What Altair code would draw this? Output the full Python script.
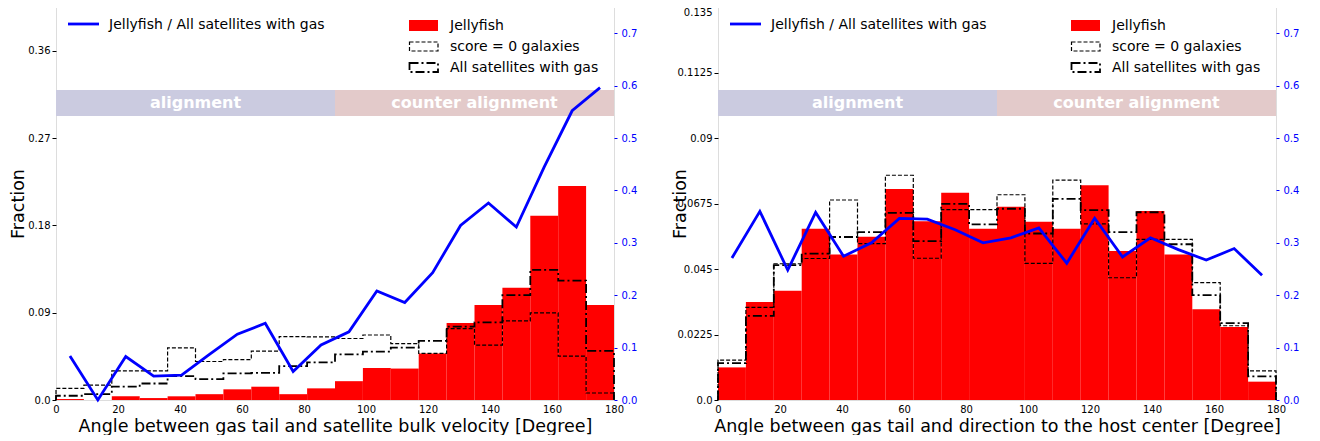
import altair as alt
import pandas as pd

# ---------------- data ----------------
EDGES = list(range(0, 181, 9))          # 20 bins of 9 degrees
CENTERS = [e + 4.5 for e in EDGES[:-1]]

# left panel: angle between gas tail and satellite bulk velocity
L_JELLY = [0.001, 0.0, 0.0038, 0.002, 0.0038, 0.006, 0.011, 0.0137, 0.006, 0.012,
           0.0194, 0.033, 0.0324, 0.048, 0.0794, 0.098, 0.1156, 0.190, 0.2205, 0.098]
L_SCORE0 = [0.012, 0.0154, 0.030, 0.030, 0.0537, 0.0397, 0.0417, 0.0503, 0.0654, 0.065,
            0.0634, 0.067, 0.058, 0.048, 0.0736, 0.0566, 0.0815, 0.0897, 0.0453, 0.0072]
L_ALL = [0.0044, 0.006, 0.0137, 0.017, 0.0246, 0.0216, 0.0274, 0.028, 0.035, 0.0387,
         0.047, 0.0498, 0.054, 0.061, 0.0757, 0.080, 0.108, 0.134, 0.123, 0.0506]
L_RATIO = [0.084, 0.0, 0.083, 0.0457, 0.0476, 0.087, 0.1255, 0.1465, 0.0545, 0.105,
           0.130, 0.208, 0.186, 0.243, 0.333, 0.376, 0.330, 0.445, 0.552, 0.596]

# right panel: angle between gas tail and direction to the host center
R_JELLY = [0.0112, 0.0337, 0.0375, 0.0588, 0.050, 0.0561, 0.0725, 0.0614, 0.0712, 0.0588,
           0.0664, 0.0612, 0.0588, 0.0738, 0.0512, 0.0649, 0.050, 0.0312, 0.0251, 0.0063]
R_SCORE0 = [0.0137, 0.0318, 0.0468, 0.0486, 0.0687, 0.0537, 0.0772, 0.0487, 0.0654, 0.0654,
            0.0705, 0.0469, 0.0755, 0.0605, 0.042, 0.0552, 0.0552, 0.0403, 0.0255, 0.010]
R_ALL = [0.0127, 0.0289, 0.0463, 0.0503, 0.056, 0.0577, 0.0643, 0.0546, 0.0674, 0.0603,
         0.0657, 0.0572, 0.0691, 0.0652, 0.0577, 0.0645, 0.0535, 0.036, 0.0264, 0.0081]
R_RATIO = [0.271, 0.360, 0.248, 0.358, 0.2745, 0.300, 0.3465, 0.345, 0.325, 0.300,
           0.3095, 0.3285, 0.261, 0.347, 0.273, 0.3095, 0.287, 0.267, 0.289, 0.238]

L_YTICKS = [0.0, 0.09, 0.18, 0.27, 0.36]
R_YTICKS = [0.0, 0.0225, 0.045, 0.0675, 0.09, 0.1125, 0.135]
RATIO_TICKS = [0.0, 0.1, 0.2, 0.3, 0.4, 0.5, 0.6, 0.7]
X_TICKS = list(range(0, 181, 20))

BAND_START = [0, 90]
BAND_END = [90, 180]
BAND_LABELS = ["alignment", "counter alignment"]
BAND_COLORS = ["#cbcbe0", "#e3caca"]

LEGEND_LINE = "Jellyfish / All satellites with gas"
LEGEND_HIST = ["Jellyfish", "score = 0 galaxies", "All satellites with gas"]

L_XTITLE = "Angle between gas tail and satellite bulk velocity [Degree]"
R_XTITLE = "Angle between gas tail and direction to the host center [Degree]"

W, H = 558, 393
FONT = "DejaVu Sans"
DASH = [4, 2]
DASHDOT = [9, 3, 2, 3]


def step_frame(vals):
    rows = [{"x": EDGES[0], "y": 0.0, "i": 0}]
    for k, v in enumerate(vals):
        rows.append({"x": EDGES[k], "y": v, "i": len(rows)})
        rows.append({"x": EDGES[k + 1], "y": v, "i": len(rows)})
    rows.append({"x": EDGES[-1], "y": 0.0, "i": len(rows)})
    return pd.DataFrame(rows)


def panel(jelly, score0, allsat, ratio, ymax, yticks, xtitle):
    xs = alt.Scale(domain=[0, 180], nice=False, zero=False)
    xaxis = alt.Axis(values=X_TICKS, title=xtitle, labelFontSize=10, labelFlush=False,
                     ticks=False, labelPadding=4, domain=False, grid=False,
                     titleFontSize=17.5, titleFontWeight="normal", titleY=26,
                     titleBaseline="middle", labelColor="black", titleColor="black")
    ys = alt.Scale(domain=[0, ymax], nice=False, zero=True)
    yaxis = alt.Axis(values=yticks, title="Fraction", labelFontSize=10, tickSize=4,
                     tickColor="black", labelPadding=2, domain=False, grid=False,
                     labelExpr="datum.value == 0 ? '0.0' : format(datum.value, '~g')",
                     labelBaseline={"condition": {"test": f"datum.value >= {ymax * 0.99}",
                                                  "value": "top"},
                                    "value": "middle"},
                     titleFontSize=17.5, titleFontWeight="normal", titleAngle=270,
                     titleX=-38, titleY=H / 2, titleAlign="center", titleBaseline="middle",
                     labelColor="black", titleColor="black")
    rs = alt.Scale(domain=[0, 0.75], nice=False, zero=True)
    raxis = alt.Axis(values=RATIO_TICKS, format=".1f", orient="right", title=None,
                     labelFontSize=10, labelColor="#0000ff", tickColor="#0000ff",
                     tickSize=3, labelPadding=4, domain=False, grid=False)

    hist = pd.DataFrame({"lo": EDGES[:-1], "hi": EDGES[1:], "v": jelly,
                         "zero": [0.0] * len(jelly)})
    bands = pd.DataFrame({"s": BAND_START, "e": BAND_END, "label": BAND_LABELS,
                          "color": BAND_COLORS})
    bands["mid"] = (bands["s"] + bands["e"]) / 2

    band = alt.Chart(bands).mark_rect().encode(
        x=alt.X("s:Q", scale=xs, axis=xaxis), x2="e:Q",
        y=alt.value(83), y2=alt.value(109),
        color=alt.Color("color:N", scale=None))
    band_text = alt.Chart(bands).mark_text(
        color="white", fontWeight="bold", fontSize=16, font=FONT, baseline="middle"
    ).encode(x=alt.X("mid:Q", scale=xs, axis=xaxis), y=alt.value(96), text="label:N")

    bars = alt.Chart(hist).mark_rect(color="#ff0000").encode(
        x=alt.X("lo:Q", scale=xs, axis=xaxis), x2="hi:Q",
        y=alt.Y("v:Q", scale=ys, axis=yaxis), y2="zero:Q")
    dashed = alt.Chart(step_frame(score0)).mark_line(
        color="black", strokeWidth=1.2, strokeDash=DASH).encode(
        x=alt.X("x:Q", scale=xs, axis=xaxis), y=alt.Y("y:Q", scale=ys, axis=yaxis),
        order="i:Q")
    dashdot = alt.Chart(step_frame(allsat)).mark_line(
        color="black", strokeWidth=1.8, strokeDash=DASHDOT).encode(
        x=alt.X("x:Q", scale=xs, axis=xaxis), y=alt.Y("y:Q", scale=ys, axis=yaxis),
        order="i:Q")

    left_group = alt.layer(band, band_text, bars, dashed, dashdot)

    rdf = pd.DataFrame({"c": CENTERS, "r": ratio})
    line = alt.Chart(rdf).mark_line(color="#0000ff", strokeWidth=2.8).encode(
        x=alt.X("c:Q", scale=xs, axis=xaxis), y=alt.Y("r:Q", scale=rs, axis=raxis))

    # legends (drawn inside the plot as in the original)
    one = pd.DataFrame({"t": [LEGEND_LINE]})
    leg_line = alt.Chart(one).mark_rule(color="#0000ff", strokeWidth=2.8).encode(
        x=alt.value(12), x2=alt.value(43), y=alt.value(17))
    leg_line_t = alt.Chart(one).mark_text(
        align="left", baseline="middle", fontSize=14, font=FONT, color="black"
    ).encode(x=alt.value(53), y=alt.value(18), text="t:N")

    hl = pd.DataFrame({"t": LEGEND_HIST})
    leg_red = alt.Chart(hl.iloc[[0]]).mark_rect(color="#ff0000").encode(
        x=alt.value(353), x2=alt.value(382), y=alt.value(13), y2=alt.value(24))
    leg_dash = alt.Chart(hl.iloc[[1]]).mark_rect(
        fill=None, stroke="black", strokeWidth=1.2, strokeDash=DASH).encode(
        x=alt.value(353.5), x2=alt.value(382), y=alt.value(35), y2=alt.value(44))
    leg_dd = alt.Chart(hl.iloc[[2]]).mark_rect(
        fill=None, stroke="black", strokeWidth=1.8, strokeDash=DASHDOT).encode(
        x=alt.value(353.5), x2=alt.value(382), y=alt.value(56), y2=alt.value(65))
    leg_t = [
        alt.Chart(hl.iloc[[k]]).mark_text(
            align="left", baseline="middle", fontSize=14, font=FONT, color="black"
        ).encode(x=alt.value(394), y=alt.value(yy), text="t:N")
        for k, yy in enumerate([19, 40, 61])
    ]

    right_group = alt.layer(line, leg_line, leg_line_t, leg_red, leg_dash, leg_dd, *leg_t)

    return alt.layer(left_group, right_group).resolve_scale(y="independent").properties(
        width=W, height=H)


left = panel(L_JELLY, L_SCORE0, L_ALL, L_RATIO, 0.405, L_YTICKS, L_XTITLE)
right = panel(R_JELLY, R_SCORE0, R_ALL, R_RATIO, 0.135, R_YTICKS, R_XTITLE)

chart = alt.hconcat(left, right, spacing=104, bounds="flush").properties(
    autosize=alt.AutoSizeParams(type="pad"),
    padding={"left": 0, "top": -2, "right": 0, "bottom": 0},
).configure_view(stroke="black", strokeWidth=1.3).configure(
    font=FONT, background="white")

chart.save("out.html", embed_options={"renderer": "svg", "actions": False})
